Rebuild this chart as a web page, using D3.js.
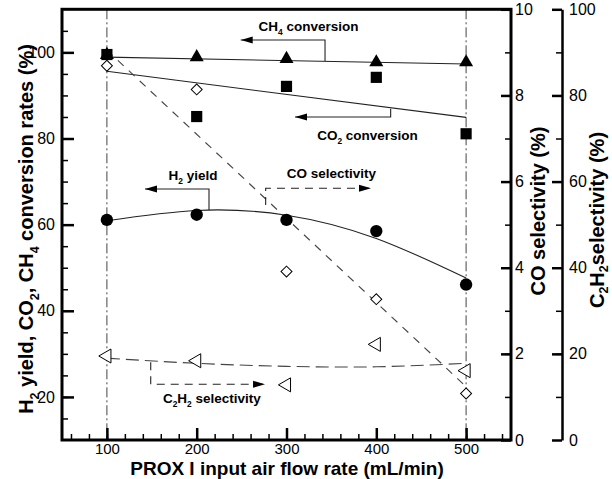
<!DOCTYPE html>
<meta charset="utf-8">
<style>
  body { margin: 0; background: #fff; }
  svg { font-family: "Liberation Sans", Arial, sans-serif; }
  .axis text { font-size: 16px; fill: #000; }
  .axis.xa text { font-size: 15px; }
  .axis path, .axis line { stroke: #000; }
  .lbl { font-weight: bold; fill: #000; }
</style>
<body>
<script src="https://d3js.org/d3.v7.min.js"></script>
<script>

// air flow rate (mL/min)
var flow = [100, 200, 300, 400, 500];
var h2Yield = [61.1, 62.3, 61.1, 58.5, 46.1];
var ch4Conv = [99.4, 98.9, 98.5, 97.7, 97.7];
var co2Conv = [99.5, 85.1, 92.1, 94.2, 81.1];
var coSel = [8.69, 8.14, 3.91, 3.27, 1.08];      // right axis 0-10
var c2h2Sel = [19.5, 18.4, 12.8, 22.2, 16.1];    // second right axis 0-100

// fitted trend lines
var lineFlow = [100, 500];
var ch4Fit = [98.9, 97.3];
var co2Fit = [95.6, 84.9];
var coFit = [9.05, 1.24];
var h2Fit = [60.9, 63.3, 62.2, 56.8, 47.6];
var c2h2Fit = [19.0, 17.8, 17.1, 17.0, 17.8];

var xTicks = [100, 200, 300, 400, 500];
var yTicks = [20, 40, 60, 80, 100];
var coTicks = [0, 2, 4, 6, 8, 10];
var c2Ticks = [0, 20, 40, 60, 80, 100];

var W = 612, H = 479;
var pL = 62, pR = 511, pT = 9.3, pB = 440;

var svg = d3.select("body").append("svg")
  .attr("width", W).attr("height", H);

var x = d3.scaleLinear().domain([50, 550]).range([pL, pR]);
var y = d3.scaleLinear().domain([10, 110]).range([pB, pT]);
var yCO = d3.scaleLinear().domain([0, 10]).range([pB, pT]);
var yC2 = d3.scaleLinear().domain([0, 100]).range([pB, pT]);

var defs = svg.append("defs");
defs.append("marker")
  .attr("id", "arr")
  .attr("viewBox", "0 0 12 8")
  .attr("refX", 12).attr("refY", 4)
  .attr("markerWidth", 12).attr("markerHeight", 8)
  .attr("markerUnits", "userSpaceOnUse")
  .attr("orient", "auto")
  .append("path").attr("d", "M0,0.5L12,4L0,7.5Z").attr("fill", "#000");

// reference dash-dot verticals
svg.selectAll(".vref").data([100, 500]).enter().append("line")
  .attr("x1", function(d) { return x(d); }).attr("x2", function(d) { return x(d); })
  .attr("y1", pT).attr("y2", pB)
  .attr("stroke", "#444").attr("stroke-width", 1)
  .attr("stroke-dasharray", "10,3,2,3");

// axes
function minor(from, to, step) { return d3.range(from, to + 1e-9, step); }

svg.append("g").attr("class", "axis")
  .attr("transform", "translate(0," + pB + ")")
  .call(d3.axisBottom(x).tickValues(minor(60, 540, 20)).tickSizeInner(-6).tickSizeOuter(0).tickFormat(""))
  .call(function(g) { g.selectAll("line").attr("stroke-width", 1.5); g.select(".domain").remove(); g.selectAll("text").remove(); });
svg.append("g").attr("class", "axis xa")
  .attr("transform", "translate(0," + pB + ")")
  .call(d3.axisBottom(x).tickValues(xTicks).tickSizeInner(-12).tickSizeOuter(0).tickPadding(3))
  .call(function(g) { g.selectAll("line").attr("stroke-width", 2.5); g.select(".domain").remove(); });

svg.append("g").attr("class", "axis")
  .attr("transform", "translate(" + pL + ",0)")
  .call(d3.axisLeft(y).tickValues(minor(15, 105, 5)).tickSizeInner(-6).tickSizeOuter(0).tickFormat(""))
  .call(function(g) { g.selectAll("line").attr("stroke-width", 1.5); g.select(".domain").remove(); g.selectAll("text").remove(); });
svg.append("g").attr("class", "axis")
  .attr("transform", "translate(" + pL + ",0)")
  .call(d3.axisLeft(y).tickValues(yTicks).tickSizeInner(-12).tickSizeOuter(0).tickPadding(7))
  .call(function(g) { g.selectAll("line").attr("stroke-width", 2.5); g.select(".domain").remove(); });

svg.append("g").attr("class", "axis")
  .attr("transform", "translate(" + pR + ",0)")
  .call(d3.axisRight(yCO).tickValues(minor(1, 9, 1)).tickSizeInner(-6).tickSizeOuter(0).tickFormat(""))
  .call(function(g) { g.selectAll("line").attr("stroke-width", 1.5); g.select(".domain").remove(); g.selectAll("text").remove(); });
svg.append("g").attr("class", "axis")
  .attr("transform", "translate(" + pR + ",0)")
  .call(d3.axisRight(yCO).tickValues(coTicks).tickSizeInner(-10).tickSizeOuter(0).tickPadding(4))
  .call(function(g) { g.selectAll("line").attr("stroke-width", 2.5); g.select(".domain").remove(); });

var c2x = 562;
svg.append("g").attr("class", "axis")
  .attr("transform", "translate(" + c2x + ",0)")
  .call(d3.axisRight(yC2).tickValues(minor(10, 90, 10)).tickSizeInner(-6).tickSizeOuter(0).tickFormat(""))
  .call(function(g) { g.selectAll("line").attr("stroke-width", 1.5); g.select(".domain").remove(); g.selectAll("text").remove(); });
svg.append("g").attr("class", "axis")
  .attr("transform", "translate(" + c2x + ",0)")
  .call(d3.axisRight(yC2).tickValues(c2Ticks).tickSizeInner(-10).tickSizeOuter(0).tickPadding(7))
  .call(function(g) { g.selectAll("line").attr("stroke-width", 2.5); g.select(".domain").attr("stroke-width", 2.5); });

// frame
svg.append("rect")
  .attr("x", pL).attr("y", pT)
  .attr("width", pR - pL).attr("height", pB - pT)
  .attr("fill", "none").attr("stroke", "#000").attr("stroke-width", 3);

// trend lines
function pts(xs, ys) { return xs.map(function(d, i) { return [d, ys[i]]; }); }
function addLine(data, ys, curve, dash, col) {
  svg.append("path")
    .datum(data)
    .attr("fill", "none").attr("stroke", col).attr("stroke-width", 1.1)
    .attr("stroke-dasharray", dash)
    .attr("d", d3.line().x(function(d) { return x(d[0]); }).y(function(d) { return ys(d[1]); }).curve(curve));
}
addLine(pts(lineFlow, ch4Fit), y, d3.curveLinear, null, "#222");
addLine(pts(lineFlow, co2Fit), y, d3.curveLinear, null, "#222");
addLine(pts(flow, h2Fit), y, d3.curveNatural, null, "#222");
addLine(pts(lineFlow, coFit), yCO, d3.curveLinear, "8,7", "#444");
addLine(pts(flow, c2h2Fit), yC2, d3.curveNatural, "13,6", "#444");

// markers
function addMarks(vals, ys, type, size, filled, rot) {
  svg.append("g").selectAll("path")
    .data(pts(flow, vals)).enter().append("path")
    .attr("d", d3.symbol().type(type).size(size))
    .attr("transform", function(d) { return "translate(" + x(d[0]) + "," + ys(d[1]) + ") rotate(" + rot + ")"; })
    .attr("fill", filled ? "#000" : "#fff")
    .attr("stroke", "#000").attr("stroke-width", filled ? 0 : 1);
}
addMarks(ch4Conv, y, d3.symbolTriangle, 85, true, 0);
addMarks(co2Conv, y, d3.symbolSquare, 125, true, 0);
addMarks(h2Yield, y, d3.symbolCircle, 120, true, 0);
addMarks(coSel, yCO, d3.symbolSquare, 60, false, 45);
addMarks(c2h2Sel, yC2, d3.symbolTriangle, 85, false, -90);

// text with subscripts: parts are [string, isSub]
function rich(g, parts, size, shift) {
  var wasSub = false, sh = shift || 0.3;
  parts.forEach(function(p) {
    var s = g.append("tspan").text(p[0]);
    if (p[1]) {
      s.attr("font-size", size * 0.62).attr("dy", size * sh);
    } else {
      s.attr("font-size", size);
      if (wasSub) s.attr("dy", -size * sh);
    }
    wasSub = !!p[1];
  });
  return g;
}
function note(cx, cy, parts) {
  var t = svg.append("text").attr("class", "lbl")
    .attr("x", x(cx)).attr("y", y(cy) + 4.5)
    .attr("text-anchor", "middle");
  rich(t, parts, 13.5);
}

// annotations: arrows go from fit line via a bracket to the tip
function arrow(pathPts, dash) {
  svg.append("path")
    .attr("d", d3.line()(pathPts.map(function(p) { return [x(p[0]), y(p[1])]; })))
    .attr("fill", "none").attr("stroke", "#222").attr("stroke-width", 1.1)
    .attr("stroke-dasharray", dash)
    .attr("marker-end", "url(#arr)");
}
arrow([[342.9, 98.0], [342.9, 102.87], [249, 102.87]], null);
note(324.5, 105.96, [["CH", 0], ["4", 1], [" conversion", 0]]);

arrow([[416, 86.9], [416, 85.0], [309.5, 85.0]], null);
note(390.2, 80.8, [["CO", 0], ["2", 1], [" conversion", 0]]);

arrow([[213.7, 63.4], [213.7, 68.28], [142.4, 68.28]], null);
note(195.9, 71.5, [["H", 0], ["2", 1], [" yield", 0]]);

arrow([[276.8, 64.56], [276.8, 68.44], [394.1, 68.44]], "8,6");
note(350.1, 71.76, [["CO selectivity", 0]]);

arrow([[148.8, 28.04], [148.8, 22.93], [276.1, 22.93]], "8,6");
note(216.9, 19.75, [["C", 0], ["2", 1], ["H", 0], ["2", 1], [" selectivity", 0]]);

// axis titles
var xt = svg.append("text").attr("class", "lbl")
  .attr("x", 287).attr("y", 475).attr("text-anchor", "middle");
rich(xt, [["PROX I input air flow rate (mL/min)", 0]], 19);

var ylt = svg.append("text").attr("class", "lbl")
  .attr("transform", "translate(33,229) rotate(-90)").attr("text-anchor", "middle");
rich(ylt, [["H", 0], ["2", 1], [" yield, CO", 0], ["2", 1], [", CH", 0], ["4", 1], [" conversion rates (%)", 0]], 20);

var yct = svg.append("text").attr("class", "lbl")
  .attr("transform", "translate(545,211) rotate(-90)").attr("text-anchor", "middle");
rich(yct, [["CO selectivity (%)", 0]], 20);

var y2t = svg.append("text").attr("class", "lbl")
  .attr("transform", "translate(604,220) rotate(-90)").attr("text-anchor", "middle");
rich(y2t, [["C", 0], ["2", 1], ["H", 0], ["2", 1], ["selectivity (%)", 0]], 20, 0.22);

</script>
